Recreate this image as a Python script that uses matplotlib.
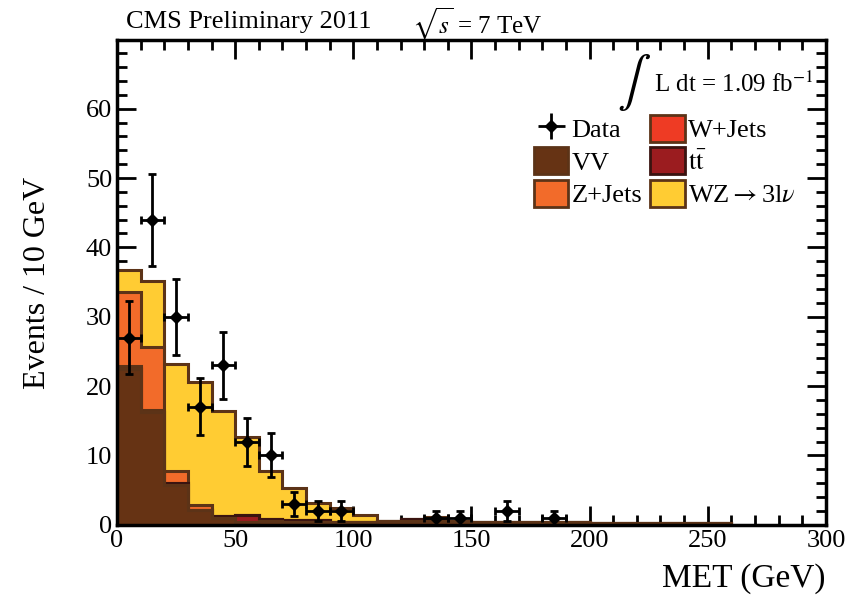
import numpy as np
import matplotlib
matplotlib.use('Agg')
import matplotlib.pyplot as plt
from matplotlib.patches import Patch
from matplotlib.ticker import MultipleLocator

plt.rcParams['font.family'] = ['Liberation Serif', 'DejaVu Serif']
plt.rcParams['mathtext.fontset'] = 'stix'

# 10 GeV bins, 0 - 260 GeV
bin_edges = np.arange(0, 270, 10)

# stacked backgrounds (events per bin)
vv = [22.5, 16.2, 5.8, 2.2, 1.0, 0.4, 0.5, 0.4, 0.4, 0.4, 0.4, 0.5, 0.5,
      0.5, 0.5, 0.4, 0.4, 0.4, 0.4, 0.4, 0.3, 0.3, 0.3, 0.3, 0.3, 0.3]
ttbar = [0.0, 0.0, 0.2, 0.0, 0.2, 1.0, 0.3, 0.3, 0.3, 0.0, 0.0, 0.0, 0.3,
         0.3, 0.0, 0.0, 0.0, 0.0, 0.0, 0.0, 0.0, 0.0, 0.0, 0.0, 0.0, 0.0]
wjets = [0.4, 0.3, 0.0, 0.0, 0.0, 0.0, 0.0, 0.0, 0.0, 0.0, 0.0, 0.0, 0.0,
         0.0, 0.0, 0.0, 0.0, 0.0, 0.0, 0.0, 0.0, 0.0, 0.0, 0.0, 0.0, 0.0]
zjets = [10.7, 9.1, 1.7, 0.7, 0.0, 0.0, 0.0, 0.0, 0.0, 0.0, 0.0, 0.0, 0.0,
         0.0, 0.0, 0.0, 0.0, 0.0, 0.0, 0.0, 0.0, 0.0, 0.0, 0.0, 0.0, 0.0]
wz = [3.2, 9.6, 15.5, 17.7, 15.2, 11.2, 6.9, 4.6, 2.4, 2.0, 0.95, 0.1, 0.1,
      0.3, 0.0, 0.0, 0.0, 0.0, 0.0, 0.0, 0.0, 0.0, 0.0, 0.0, 0.0, 0.0]

# data points
data_x = [5, 15, 25, 35, 45, 55, 65, 75, 85, 95, 135, 145, 165, 185]
data_y = [27, 44, 30, 17, 23, 12, 10, 3, 2, 2, 1, 1, 2, 1]

names = ['VV', r'$\mathrm{t\bar{t}}$', 'W+Jets', 'Z+Jets', r'WZ$\rightarrow$3l$\nu$']
fills = ['#663314', '#9b1c1f', '#ee3b24', '#f26b2a', '#ffcc33']
edges = ['#5c3317', '#3a1410', '#5c3317', '#5c3317', '#5c3317']

fig = plt.figure(figsize=(8.51, 5.97), dpi=100)
ax = fig.add_axes([0.1375, 0.121, 0.833, 0.812])

layers = [vv, ttbar, wjets, zjets, wz]
cum = np.cumsum(np.array(layers, dtype=float), axis=0)
for i in range(len(layers) - 1, -1, -1):
    ax.stairs(cum[i], bin_edges, fill=True, facecolor=fills[i],
              edgecolor=edges[i], linewidth=2.2, baseline=0, zorder=2 + (4 - i) * 0.01)

ax.errorbar(data_x, data_y, yerr=np.sqrt(data_y), xerr=5, fmt='D', color='black',
            markersize=6, elinewidth=2, capsize=3, capthick=2, zorder=5)

ax.set_xlim(0, 300)
ax.set_ylim(0, 69.9)
ax.xaxis.set_major_locator(MultipleLocator(50))
ax.xaxis.set_minor_locator(MultipleLocator(10))
ax.yaxis.set_major_locator(MultipleLocator(10))
ax.yaxis.set_minor_locator(MultipleLocator(2))
ax.tick_params(which='both', direction='in', top=True, right=True, width=2, labelsize=19)
ax.tick_params(which='major', length=14)
ax.tick_params(which='minor', length=7)
for s in ax.spines.values():
    s.set_linewidth(2.5)
    s.set_zorder(10)

ax.set_ylabel('Events / 10 GeV', fontsize=23, labelpad=24)
ax.set_xlabel('MET (GeV)', fontsize=24, loc='right', labelpad=8)

fig.text(0.148, 0.963, 'CMS Preliminary 2011', fontsize=19, va='center')
fig.text(0.484, 0.96, r'$\sqrt{s}$ = 7 TeV', fontsize=18, va='center')
fig.text(0.745, 0.862, r'$\int$', fontsize=36, va='center', ha='center')
fig.text(0.768, 0.858, r'L dt = 1.09 fb$^{-1}$', fontsize=18, va='center')

handles = [
    ax.errorbar([], [], yerr=[], xerr=[], fmt='D', color='black', markersize=6,
                elinewidth=2, capsize=0),
    Patch(facecolor=fills[0], edgecolor=edges[0], linewidth=2),
    Patch(facecolor=fills[3], edgecolor=edges[3], linewidth=2),
    Patch(facecolor=fills[2], edgecolor=edges[2], linewidth=2),
    Patch(facecolor=fills[1], edgecolor=edges[1], linewidth=2),
    Patch(facecolor=fills[4], edgecolor=edges[4], linewidth=2),
]
labels = ['Data', 'VV', 'Z+Jets', 'W+Jets', names[1], names[4]]
ax.legend(handles, labels, ncol=2, frameon=False, fontsize=19,
          loc='upper left', bbox_to_anchor=(0.555, 0.895), handlelength=1.3,
          handleheight=1.2, handletextpad=0.12, columnspacing=0.3, labelspacing=0.2)

fig.savefig('out.png', dpi=100)
